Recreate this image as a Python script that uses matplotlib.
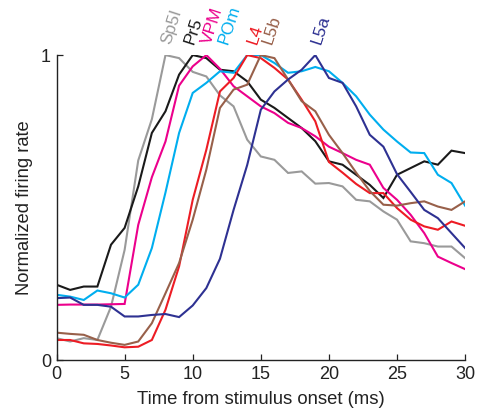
import numpy as np
import matplotlib
matplotlib.use("Agg")
import matplotlib.pyplot as plt

plt.rcParams['font.family'] = ['Liberation Sans', 'DejaVu Sans']

# Time axis (ms after stimulus onset), 1 ms bins
time_ms = list(range(31))

sp5i = [0.073, 0.062, 0.073, 0.067, 0.176, 0.362, 0.655, 0.790, 1.000, 0.990,
        0.945, 0.930, 0.868, 0.832, 0.723, 0.668, 0.657, 0.614, 0.619, 0.579,
        0.581, 0.570, 0.526, 0.521, 0.488, 0.461, 0.390, 0.384, 0.373, 0.373, 0.335]
pr5 = [0.248, 0.231, 0.242, 0.242, 0.379, 0.434, 0.570, 0.745, 0.816, 0.936,
       1.000, 0.990, 0.952, 0.947, 0.914, 0.854, 0.827, 0.794, 0.761, 0.718,
       0.652, 0.641, 0.608, 0.575, 0.532, 0.608, 0.630, 0.652, 0.641, 0.687, 0.679]
vpm = [0.182, 0.183, 0.183, 0.183, 0.184, 0.185, 0.444, 0.600, 0.717, 0.900,
       0.963, 1.000, 0.955, 0.898, 0.865, 0.832, 0.810, 0.778, 0.761, 0.734,
       0.700, 0.679, 0.657, 0.641, 0.565, 0.526, 0.477, 0.417, 0.340, 0.319, 0.299]
pom = [0.215, 0.209, 0.198, 0.229, 0.220, 0.206, 0.248, 0.368, 0.550, 0.745,
       0.876, 0.909, 0.947, 0.942, 1.000, 1.000, 0.974, 0.942, 0.947, 0.961,
       0.947, 0.909, 0.865, 0.805, 0.756, 0.717, 0.681, 0.679, 0.608, 0.581, 0.507]
l4 = [0.067, 0.067, 0.056, 0.054, 0.049, 0.043, 0.045, 0.067, 0.166, 0.308,
      0.526, 0.690, 0.881, 0.925, 1.000, 0.990, 0.958, 0.920, 0.854, 0.783,
      0.650, 0.615, 0.578, 0.548, 0.548, 0.499, 0.461, 0.439, 0.428, 0.455, 0.441]
l5b = [0.091, 0.087, 0.084, 0.067, 0.058, 0.051, 0.062, 0.122, 0.220, 0.319,
       0.461, 0.625, 0.827, 0.887, 0.903, 1.000, 0.990, 0.920, 0.849, 0.816,
       0.739, 0.679, 0.615, 0.555, 0.510, 0.507, 0.515, 0.521, 0.504, 0.493, 0.521]
l5a = [0.204, 0.206, 0.182, 0.182, 0.176, 0.144, 0.144, 0.149, 0.152, 0.142,
       0.180, 0.237, 0.333, 0.493, 0.640, 0.821, 0.881, 0.920, 0.952, 1.000,
       0.925, 0.909, 0.832, 0.739, 0.700, 0.610, 0.552, 0.493, 0.466, 0.417, 0.368]

names = ["Sp5I", "Pr5", "VPM", "POm", "L4", "L5b", "L5a"]
series = [sp5i, pr5, vpm, pom, l4, l5b, l5a]
colors = ["#9a9a9a", "#1a1a1a", "#ec008c", "#00aeef", "#ed1c24", "#98604a", "#2e3192"]
# left edge of each rotated name, in ms
label_x = [7.55, 9.2, 10.5, 11.7, 13.85, 14.95, 18.55]

fig = plt.figure(figsize=(4.79, 4.11), dpi=100)
ax = fig.add_axes([0.118, 0.123, 0.853, 0.743])

for y, c in zip(series, colors):
    ax.plot(time_ms, y, color=c, lw=1.5, solid_joinstyle='miter')

for name, c, lx in zip(names, colors, label_x):
    ax.text(lx, 1.03, name, color=c, rotation=72, ha='left', va='bottom',
            fontsize=12.5, clip_on=False)

ax.set_xlim(0, 30)
ax.set_ylim(0, 1)
ax.set_xticks([0, 5, 10, 15, 20, 25, 30])
ax.set_yticks([0, 1])
ax.set_yticklabels(["0", "1"])
ax.tick_params(direction='in', length=4, width=0.9, labelsize=13, colors='#222222', pad=4)
for s in ['top', 'right']:
    ax.spines[s].set_visible(False)
for s in ['left', 'bottom']:
    ax.spines[s].set_linewidth(1.0)
    ax.spines[s].set_color('#222222')

ax.set_xlabel("Time from stimulus onset (ms)", fontsize=13.3, color='#222222', labelpad=6)
ax.set_ylabel("Normalized firing rate", fontsize=13.2, color='#222222', labelpad=6)

fig.savefig("out.png", dpi=100)
